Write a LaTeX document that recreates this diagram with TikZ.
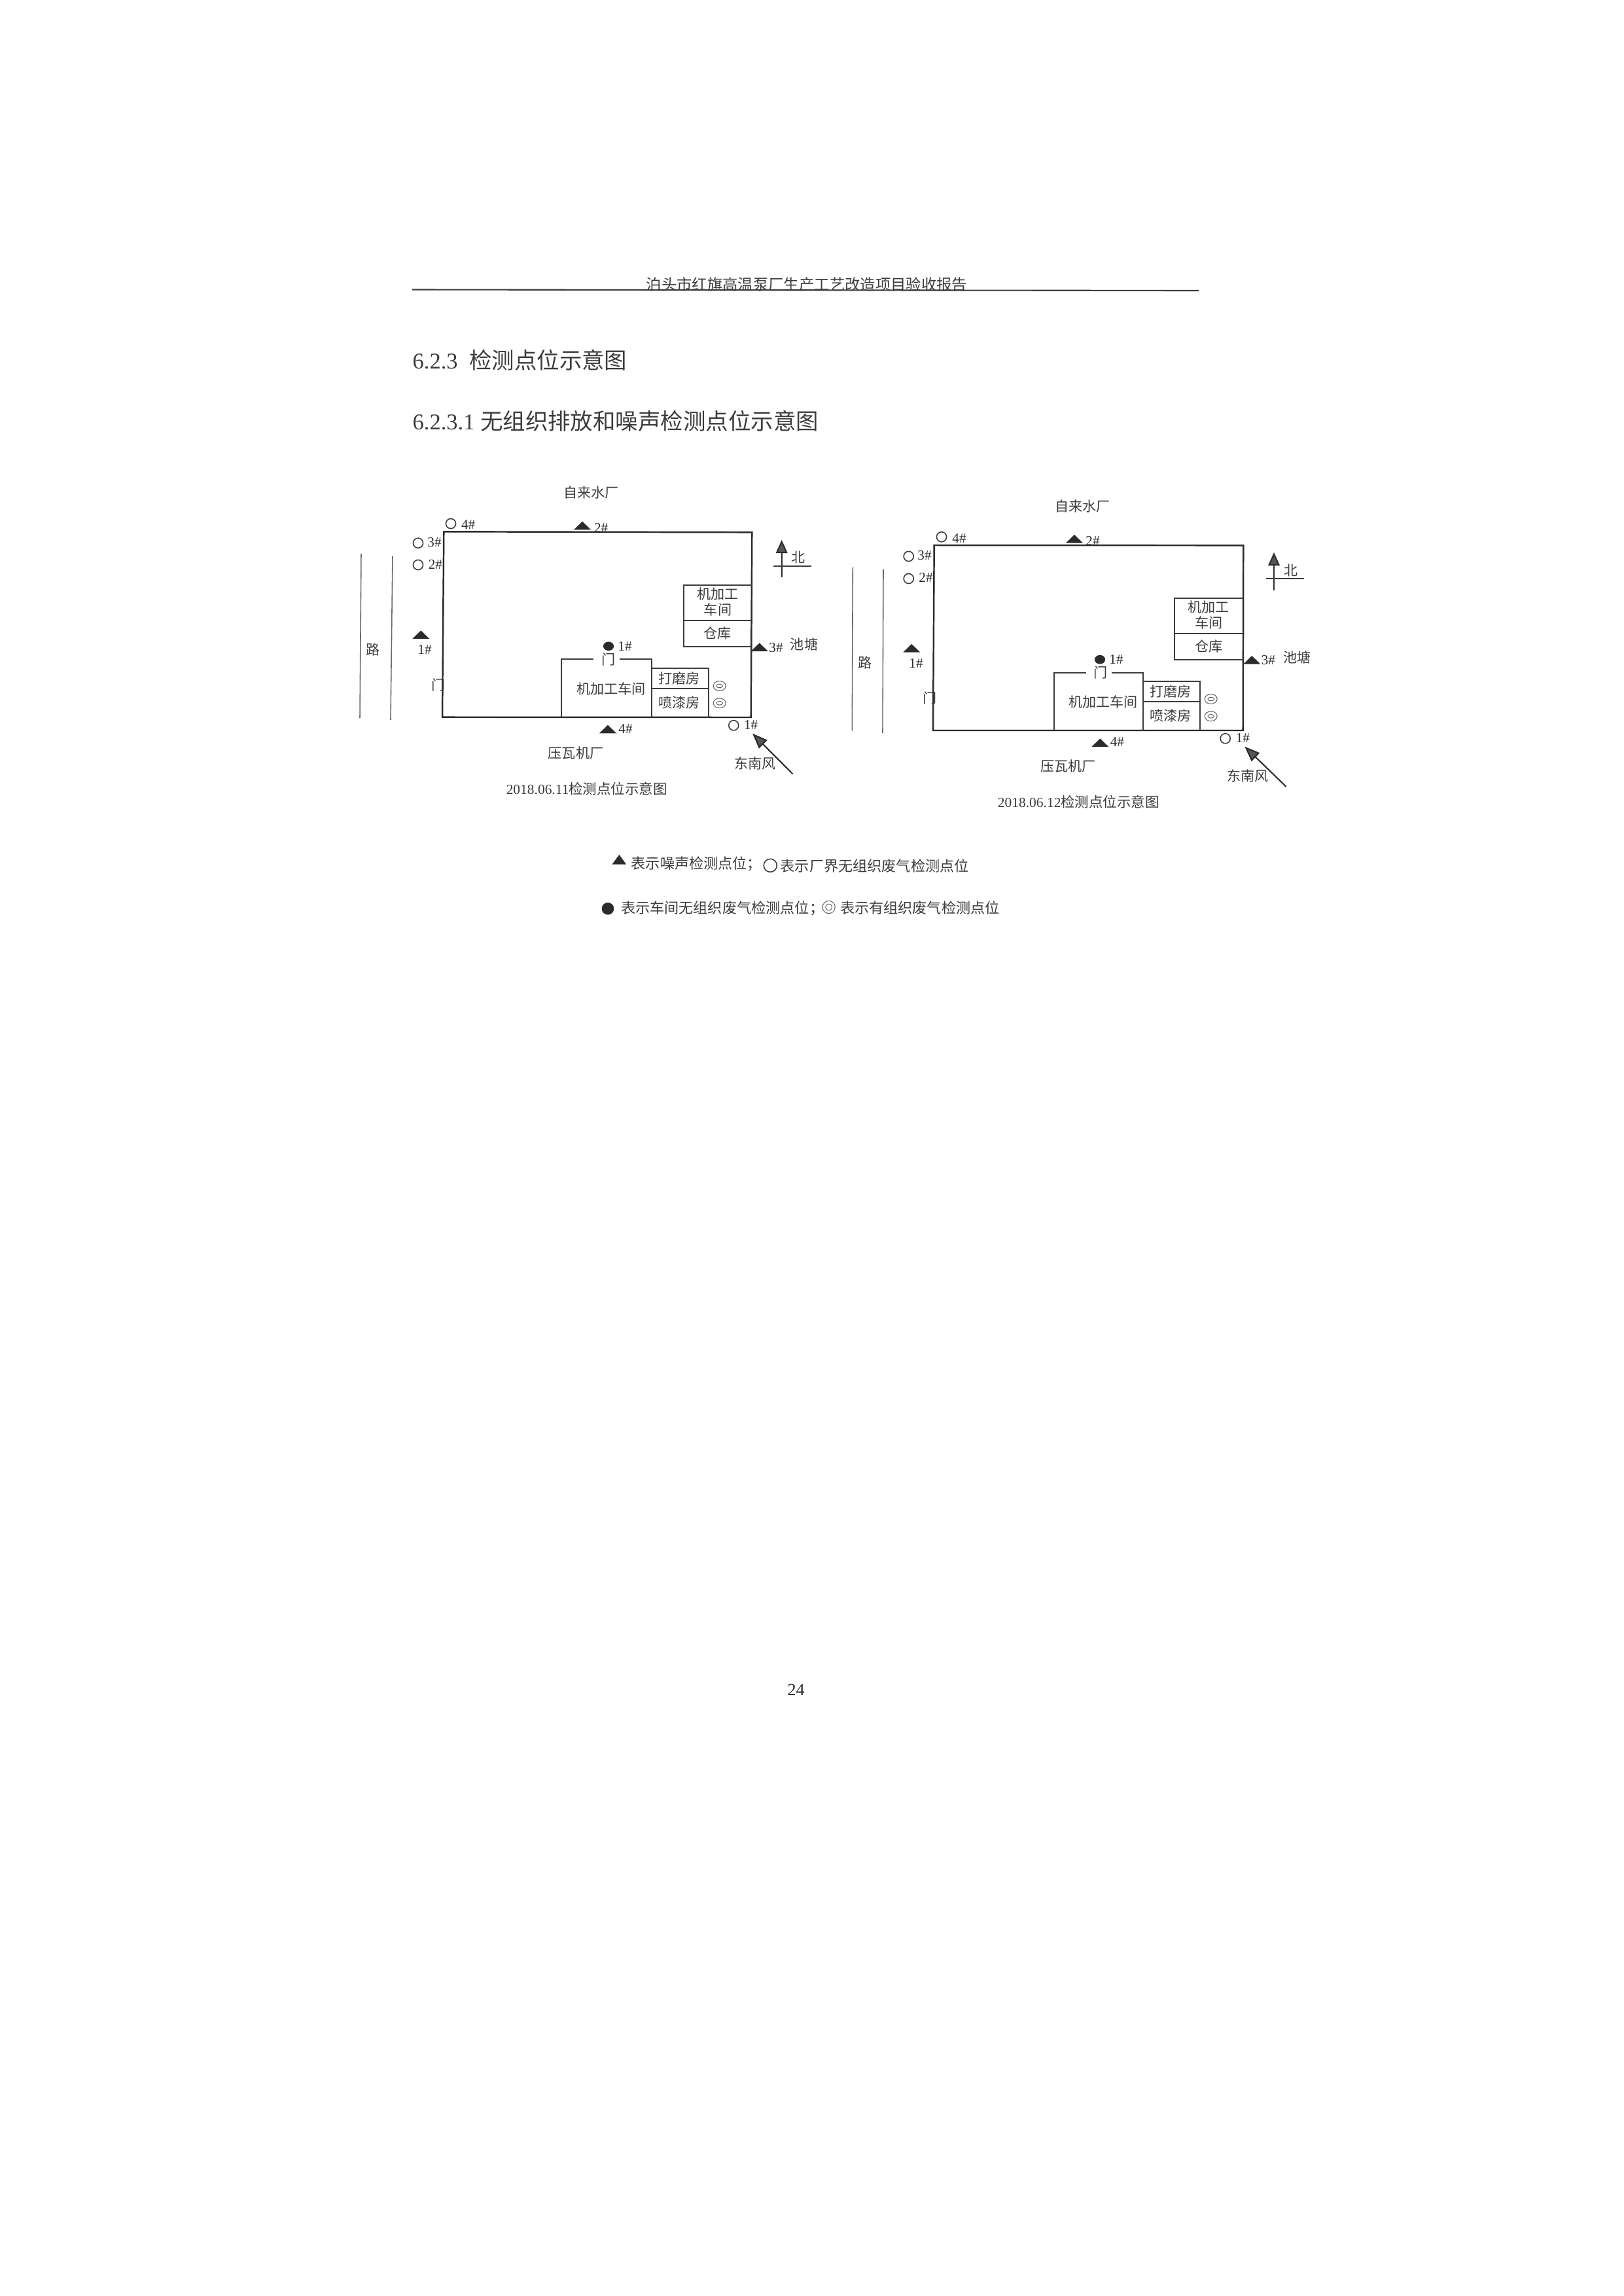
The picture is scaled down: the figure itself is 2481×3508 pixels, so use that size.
\documentclass[tikz,border=0pt]{standalone}
\usepackage{fontspec}
\setmainfont{Liberation Serif}
\newfontfamily\cjk{Noto Sans CJK SC}
\usetikzlibrary{arrows.meta,shapes.geometric}
\definecolor{ink}{HTML}{2B2B2B}
\definecolor{soft}{HTML}{3C3C3C}
\definecolor{roadgray}{HTML}{6A6A6A}
\definecolor{headgray}{HTML}{555555}
\begin{document}
\begin{tikzpicture}[
       x = 0.01cm,
       y = -0.01cm,
     txt/.style = {inner sep=0pt, text=soft, align=center, font=\fontsize{6pt}{6.83pt}\selectfont\cjk},
     num/.style = {inner sep=0pt, text=ink, font=\fontsize{6pt}{7pt}\selectfont},
  captxt/.style = {inner sep=0pt, text=soft, font=\fontsize{6.1pt}{7pt}\selectfont},
     leg/.style = {inner sep=0pt, anchor=west, text=soft, font=\fontsize{6.3pt}{7pt}\selectfont\cjk},
  sechead/.style = {inner sep=0pt, anchor=west, text=soft, font=\fontsize{9.8pt}{12pt}\selectfont},
    wall/.style = {ink, line width=0.7pt},
   inner/.style = {soft, line width=0.6pt},
    road/.style = {roadgray, line width=0.45pt},
  north/.style = {ink, line width=0.55pt, -{Triangle[length=5.7pt,width=5pt,fill=headgray]}},
    wind/.style = {ink, line width=0.6pt, -{Triangle[length=6.6pt,width=5pt,fill=headgray]}},
   noise/.style = {shape=isosceles triangle, shape border rotate=90, isosceles triangle stretches, anchor=lower side, fill=ink, inner sep=0pt, minimum width=7.4pt, minimum height=3.6pt},
    ring/.style = {shape=circle, draw=soft, line width=0.45pt, inner sep=0pt, minimum size=4.3pt},
     dot/.style = {shape=ellipse, fill=ink, inner sep=0pt, minimum width=4.6pt, minimum height=3.9pt},
    pipe/.style = {shape=ellipse, draw=headgray, line width=0.3pt, double, double distance=1pt, inner sep=0pt, minimum width=4pt, minimum height=2.9pt}
                    ]
\useasboundingbox (0,0) rectangle (2481,3508);

% page head
\node[inner sep=0pt, text=soft, font=\fontsize{6.64pt}{8pt}\selectfont\cjk] (title) at (1233,435) {泊头市红旗高温泵厂生产工艺改造项目验收报告};
\coordinate (ruleL) at (630,442.5);
\coordinate (ruleR) at (1832,444);
\draw[inner] (ruleL) -- (ruleR);
\node[sechead] (sec1) at (630,550) {6.2.3\hspace{5pt}{\cjk 检测点位示意图}};
\node[sechead] (sec2) at (630,643) {6.2.3.1 {\cjk 无组织排放和噪声检测点位示意图}};

% 06.11
\draw[road] (552,846) -- (550,1097);
\draw[road] (600,850) -- (597,1100);
\node[txt] (a0) at (570,992) {路};
\draw[wall] (678.3,812.3) -- (1149.3,813.3) -- (1147.7,1096) -- (676,1095.7) -- cycle;
\draw[inner] (858.3,1096) -- (858.3,1007.3) -- (906.7,1007.3);
\draw[inner] (947.3,1007.3) -- (995.7,1007.3) -- (995.7,1096);
\draw[inner] (995.7,1020.7) -- (1083.3,1020.7) -- (1083.3,1096);
\draw[inner] (995.7,1052) -- (1083.3,1052);
\draw[inner] (1148.5,894.3) -- (1045,894.3) -- (1045,988.3) -- (1148.2,988.3);
\draw[inner] (1045,947.7) -- (1148.4,947.7);
\node[txt] (a1) at (903.3,752.7) {自来水厂};
\node[txt] (a2) at (880,1150) {压瓦机厂};
\node[txt] (a3) at (1229,984) {池塘};
\node[txt] (a4) at (1154,1166) {东南风};
\node[txt] (a5) at (670,1046.7) {门};
\node[txt] (a6) at (930,1007.3) {门};
\node[txt] (a7) at (934,1052.3) {机加工车间};
\node[txt] (a8) at (1097,919.7) {机加工\\车间};
\node[txt] (a9) at (1096.7,967.3) {仓库};
\node[txt] (a10) at (1038.3,1036.7) {打磨房};
\node[txt] (a11) at (1038.3,1073.3) {喷漆房};
\node[noise] (a12) at (643.3,976.7) {};
\node[num] (a13) at (649,992.7) {1\#};
\node[noise] (a14) at (890,810) {};
\node[num] (a15) at (918.7,806) {2\#};
\node[noise] (a16) at (1160.7,995.7) {};
\node[num] (a17) at (1186,989.3) {3\#};
\node[noise] (a18) at (929,1121) {};
\node[num] (a19) at (956,1114) {4\#};
\node[ring] (a20) at (1121.3,1108.3) {};
\node[num] (a21) at (1147.7,1107.7) {1\#};
\node[ring] (a22) at (639,863) {};
\node[num] (a23) at (665.3,862) {2\#};
\node[ring] (a24) at (639,829.7) {};
\node[num] (a25) at (664,828.7) {3\#};
\node[ring] (a26) at (689,800) {};
\node[num] (a27) at (715.7,801.7) {4\#};
\node[dot] (a28) at (930,987.3) {};
\node[num] (a29) at (955,987.3) {1\#};
\node[pipe] (a30) at (1099.7,1048) {};
\node[pipe] (a31) at (1099.7,1074.3) {};
\coordinate (a32) at (1194.7,882.3);
\coordinate (a33) at (1194.7,825);
\draw[north] (a32) -- (a33);
\coordinate (a34) at (1182.3,865);
\coordinate (a35) at (1240,865);
\draw[inner] (a34) -- (a35);
\node[txt] (a36) at (1220,851.7) {北};
\coordinate (a37) at (1211.7,1182.7);
\coordinate (a38) at (1150,1120.7);
\draw[wind] (a37) -- (a38);
\node[captxt] (a39) at (896.7,1205) {2018.06.11{\cjk 检测点位示意图}};

% 06.12
\draw[road] (1303.3,866.7) -- (1302.3,1116.7);
\draw[road] (1350,870) -- (1349,1120);
\node[txt] (b0) at (1322,1012.7) {路};
\draw[wall] (1427.7,833) -- (1900.3,833.3) -- (1899.7,1116) -- (1426,1116) -- cycle;
\draw[inner] (1610.7,1116) -- (1610.7,1027.7) -- (1660,1027.7);
\draw[inner] (1699,1027.7) -- (1746.7,1027.7) -- (1746.7,1116);
\draw[inner] (1746.7,1040.7) -- (1834,1040.7) -- (1834,1116);
\draw[inner] (1746.7,1072) -- (1834,1072);
\draw[inner] (1900,914) -- (1795.3,914) -- (1795.3,1008.3) -- (1899.8,1008.3);
\draw[inner] (1795.3,967.7) -- (1899.9,967.7);
\node[txt] (b1) at (1654.7,773.3) {自来水厂};
\node[txt] (b2) at (1632.3,1170.7) {压瓦机厂};
\node[txt] (b3) at (1982.3,1004) {池塘};
\node[txt] (b4) at (1906.7,1185.7) {东南风};
\node[txt] (b5) at (1420.7,1066.7) {门};
\node[txt] (b6) at (1681.7,1027.3) {门};
\node[txt] (b7) at (1686,1072.3) {机加工车间};
\node[txt] (b8) at (1847.3,939.7) {机加工\\车间};
\node[txt] (b9) at (1847.3,987.3) {仓库};
\node[txt] (b10) at (1789.3,1056.7) {打磨房};
\node[txt] (b11) at (1789.3,1093.3) {喷漆房};
\node[noise] (b12) at (1393.3,997.3) {};
\node[num] (b13) at (1400,1013.3) {1\#};
\node[noise] (b14) at (1642,830.3) {};
\node[num] (b15) at (1670,826.7) {2\#};
\node[noise] (b16) at (1913.3,1015.3) {};
\node[num] (b17) at (1938.3,1009) {3\#};
\node[noise] (b18) at (1681.3,1141.7) {};
\node[num] (b19) at (1707.3,1134) {4\#};
\node[ring] (b20) at (1872.7,1128.3) {};
\node[num] (b21) at (1899.3,1127.7) {1\#};
\node[ring] (b22) at (1388.7,884) {};
\node[num] (b23) at (1415,882.7) {2\#};
\node[ring] (b24) at (1388.7,850) {};
\node[num] (b25) at (1413,849) {3\#};
\node[ring] (b26) at (1439,820.3) {};
\node[num] (b27) at (1466,822.3) {4\#};
\node[dot] (b28) at (1681,1007.7) {};
\node[num] (b29) at (1706,1007.3) {1\#};
\node[pipe] (b30) at (1850.7,1068) {};
\node[pipe] (b31) at (1850.7,1094.3) {};
\coordinate (b32) at (1947,901.7);
\coordinate (b33) at (1947,844);
\draw[north] (b32) -- (b33);
\coordinate (b34) at (1934.7,884.3);
\coordinate (b35) at (1992.7,884.3);
\draw[inner] (b34) -- (b35);
\node[txt] (b36) at (1972.7,871.7) {北};
\coordinate (b37) at (1965.7,1202);
\coordinate (b38) at (1902.3,1140.7);
\draw[wind] (b37) -- (b38);
\node[captxt] (b39) at (1648.3,1225) {2018.06.12{\cjk 检测点位示意图}};

% legend
\node[noise, minimum width=6.1pt, minimum height=4.2pt] (k1) at (946.3,1321.3) {};
\node[leg] (k2) at (964,1320) {表示噪声检测点位；};
\node[ring, minimum size=5.7pt] (k3) at (1177.3,1322.3) {};
\node[leg] (k4) at (1192,1323.3) {表示厂界无组织废气检测点位};
\node[dot, minimum width=5.3pt, minimum height=5.3pt] (k5) at (929,1388.3) {};
\node[leg] (k6) at (948.3,1388) {表示车间无组织废气检测点位；};
\node[pipe, minimum width=4.1pt, minimum height=4.1pt] (k7) at (1266.7,1386) {};
\node[leg] (k8) at (1283.3,1386.7) {表示有组织废气检测点位};

% page number
\node[inner sep=0pt, text=ink, font=\fontsize{7.4pt}{9pt}\selectfont] (page) at (1216.7,2581.7) {24};
\end{tikzpicture}
\end{document}
